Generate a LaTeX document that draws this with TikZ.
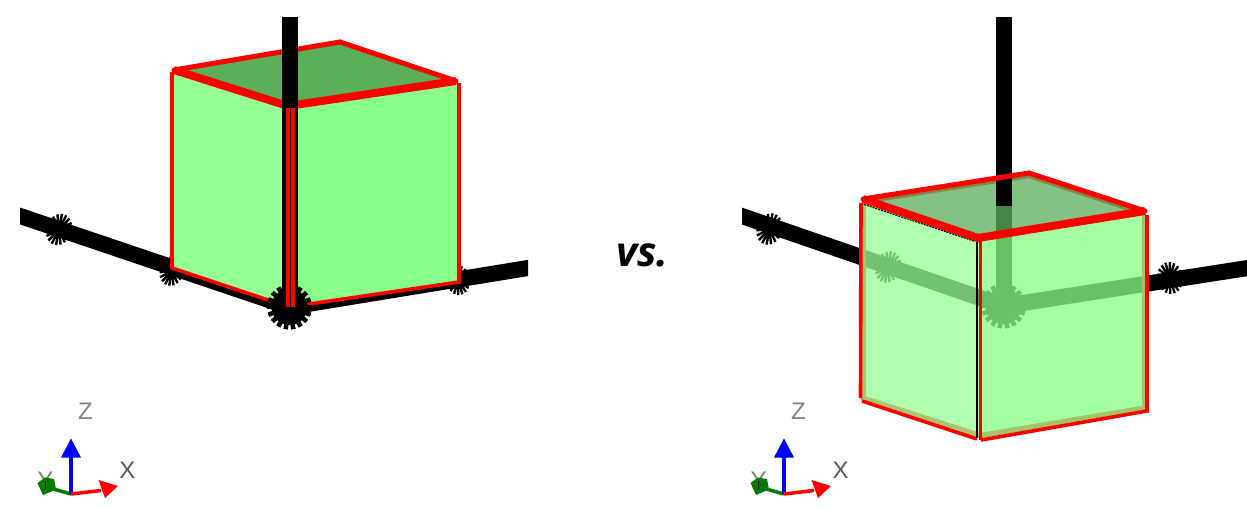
\documentclass[tikz,border=0pt]{standalone}
\usepackage{fontspec}
\setmainfont{Open Sans}
\newfontfamily\axisfont{Liberation Sans}
\definecolor{faceL}{HTML}{96FF96}
\definecolor{faceR}{HTML}{88FF88}
\definecolor{faceT}{HTML}{5BAF5B}
\definecolor{axisG}{HTML}{808080}
\definecolor{triG}{HTML}{007A00}
\newcommand{\gearmark}[7][2.4pt]{% tick width; x,y, disc r, tick r, rotate, xscale
  \begin{scope}[shift={(#2,#3)},rotate=#6,xscale=#7]
    \fill[black] (0,0) circle[radius=#4];
    \foreach \a in {0,20,...,340}{
      \draw[black,line width=#1] (\a:#4*0.9) -- (\a:#5);
    }
  \end{scope}}
\newcommand{\triad}[1]{%
  \begin{scope}[shift={(#1,0)}]
    \coordinate (o) at (71,494);
    \node[axislabel,text=axisG] (lz) at (85.5,411.5) {Z};
    \node[axislabel,text=black!65] (lx) at (127.5,470.5) {X};
    \node[axislabel,text=axisG] (ly) at (45.5,480) {Y};
    \draw[triG,line width=3.5pt] (o) -- (50,488);
    \fill[triG] (37.5,483) -- (45,477.5) -- (54,479) -- (56,489.5) -- (43,495) -- cycle;
    \draw[black,line width=1.2pt] (45.5,481) -- (45.5,488.5);
    \draw[blue,line width=3.5pt] (o) -- (71,455);
    \fill[blue] (71,438.5) -- (81,457.5) -- (61,457.5) -- cycle;
    \draw[red,line width=3.5pt] (o) -- (101,490.5);
    \fill[red] (118,486) -- (105,498) -- (98.5,480) -- cycle;
  \end{scope}}
\tikzset{
  axisbar/.style={black,line width=16pt},
  vbar/.style={black,line width=16pt},
  edgethin/.style={red,line width=3.6pt,line join=miter},
  edgemid/.style={red,line width=5pt,line cap=round},
  edgethick/.style={red,line width=8pt,line join=miter},
  axislabel/.style={font=\axisfont\fontsize{24}{24}\selectfont,inner sep=0pt},
  vslabel/.style={font=\fontsize{41}{41}\selectfont\bfseries\itshape,inner sep=0pt},
  faceglass/.style={draw=none,fill opacity=.76},
  ghostedge/.style={red,line width=10pt},
}
\begin{document}
\begin{tikzpicture}[x=1pt,y=-1pt]
\path[use as bounding box] (0,0) rectangle (1247,509);
% ---------- left cube
\coordinate (lA) at (174,70);
\coordinate (lB) at (340,42);
\coordinate (lC) at (456,81);
\coordinate (lD) at (288,106);
\coordinate (lE) at (172,72);
\coordinate (lF) at (172,268);
\coordinate (lG) at (289,307);
\coordinate (lH) at (459,282);
\coordinate (lI) at (459,83);
\coordinate (lO) at (289.5,307);
\begin{scope}
  \clip (20,0) rectangle (528,509);
  \draw[axisbar] (0,209.2) -- (lO);
  \draw[axisbar] (548,264.7) -- (lO);
\end{scope}
\gearmark{59}{229.5}{9}{16}{-19}{0.8}
\gearmark{172}{271}{9}{15}{-19}{0.8}
\gearmark{458}{280}{9}{15}{9}{0.8}
\fill[faceT] (lA) -- (lB) -- (lC) -- (lD) -- cycle;
\fill[faceL] (lE) -- (lD) -- (lG) -- (lF) -- cycle;
\fill[faceR] (lD) -- (lI) -- (lH) -- (lG) -- cycle;
\draw[edgethin] (lE) -- (lF) -- (lG) -- (lH) -- (lI);
\draw[edgemid] (lA) -- (lB);
\draw[edgemid] (lB) -- (lC);
\draw[edgethick] (lA) -- (lD) -- (lC);
\gearmark[4.5pt]{289.5}{307}{18}{22.5}{0}{1}
\draw[vbar] (289.5,17) -- (lO);
\fill[red] (286,108) rectangle (290,307);
\fill[red] (291,108) rectangle (295,307);
% ---------- right cube
\coordinate (rA) at (863,199);
\coordinate (rB) at (1029,173);
\coordinate (rC) at (1145,211);
\coordinate (rD) at (978,238);
\coordinate (rE) at (861,203);
\coordinate (rF) at (861,400);
\coordinate (rG) at (980,438);
\coordinate (rH) at (1147,410);
\coordinate (rI) at (1147,215);
\coordinate (rO) at (1003.5,306);
\begin{scope}
  \clip (742,0) rectangle (1247,509);
  \draw[axisbar] (722,209.2) -- (rO);
  \draw[axisbar] (1267,265) -- (rO);
\end{scope}
\gearmark{769.5}{229}{9}{16}{-19}{0.8}
\gearmark{888}{267}{9}{16}{-19}{0.8}
\gearmark{1170}{278}{9}{16}{9}{0.8}
\gearmark[4.5pt]{1003.5}{306}{18}{22.5}{0}{1}
\draw[vbar] (1003.5,17) -- (rO);
\begin{scope}
  \clip (rA) -- (rB) -- (rC) -- (rD) -- cycle;
  \draw[ghostedge] (rA) -- (rB) -- (rC);
\end{scope}
\begin{scope}
  \clip (rE) -- (rD) -- (rG) -- (rF) -- cycle;
  \draw[ghostedge] (rE) -- (rF) -- (rG);
\end{scope}
\begin{scope}
  \clip (rD) -- (rI) -- (rH) -- (rG) -- cycle;
  \draw[ghostedge] (rG) -- (rH) -- (rI);
\end{scope}
\fill[faceT,faceglass] (rA) -- (rB) -- (rC) -- (rD) -- cycle;
\fill[faceL,faceglass] (rE) -- (rD) -- (rG) -- (rF) -- cycle;
\fill[faceR,faceglass] (rD) -- (rI) -- (rH) -- (rG) -- cycle;
\draw[vbar] (1003.5,17) -- (1003.5,206);
\draw[edgethin] (rE) -- (860.5,398);
\draw[edgethin] (862,401) -- (977,439);
\draw[edgethin] (981,440) -- (1147,411) -- (rI);
\draw[edgemid] (rA) -- (rB) -- (rC);
\draw[edgethick] (rA) -- (rD) -- (rC);
\draw[black,line width=2.4pt] (976.8,242) -- (976.8,438);
\draw[red,line width=3.6pt] (980.5,241) -- (980.5,440);
\draw[black,line width=1pt,dash pattern=on 2pt off 1pt] (864,204.5) -- (975,241.5);
% ---------- label and triads
\node[vslabel] (vs) at (642.5,255) {vs.};
\triad{0}
\triad{713}
\end{tikzpicture}
\end{document}
